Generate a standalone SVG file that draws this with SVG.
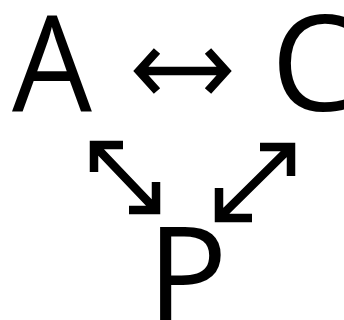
<svg xmlns="http://www.w3.org/2000/svg" width="344" height="320" viewBox="0 0 344 320">
<style>
.lbl{font-family:"Open Sans","Noto Sans",sans-serif;font-size:134px;fill:#000}
.ar{fill:none;stroke:#000;stroke-width:8.5;stroke-linejoin:miter;stroke-linecap:butt}
</style>
<rect width="344" height="320" fill="#fff"/>
<g id="A"><text class="lbl" x="12" y="111" textLength="80" lengthAdjust="spacingAndGlyphs">A</text></g>
<g id="C"><text class="lbl" x="271" y="111">C</text></g>
<g id="P"><text class="lbl" x="147" y="323">P</text></g>
<g id="connectors">
<path class="ar" d="M140 71H226M157 51L139 71L157 91M208 51L226 71L208 91"/>
<path class="ar" d="M94 145L156 210M123 145H94V172M156 182V210H129"/>
<path class="ar" d="M291 147L219 218M260 147H291V176M219 188V218H252"/>
</g>
</svg>
